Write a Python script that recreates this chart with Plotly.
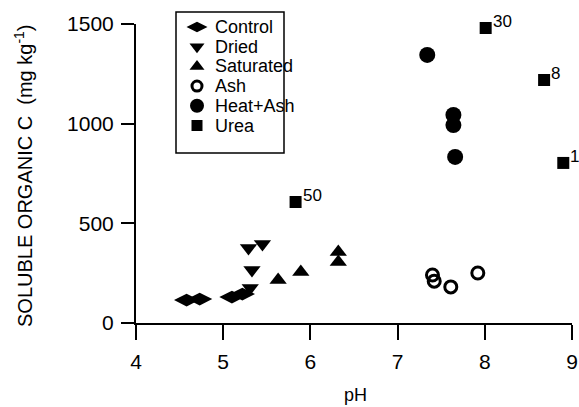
import plotly.graph_objects as go

# Data
control_ph = [4.58, 4.73, 5.10, 5.22]
control_c = [115, 120, 130, 145]

dried_ph = [5.29, 5.45, 5.33, 5.31]
dried_c = [376, 396, 266, 176]

saturated_ph = [5.63, 5.89, 6.32, 6.32]
saturated_c = [216, 256, 356, 306]

ash_ph = [7.40, 7.42, 7.61, 7.92]
ash_c = [241, 210, 181, 251]

heatash_ph = [7.34, 7.64, 7.64, 7.66]
heatash_c = [1345, 1044, 993, 833]

urea_ph = [5.83, 8.01, 8.68, 8.90]
urea_c = [607, 1480, 1219, 803]
urea_labels = ["50", "30", "8", "1"]

series_names = ["Control", "Dried", "Saturated", "Ash", "Heat+Ash", "Urea"]

x_ticks = [4, 5, 6, 7, 8, 9]
y_ticks = [0, 500, 1000, 1500]

FONT = "Liberation Sans, Arial, Helvetica, sans-serif"

# marker styles (symbol, size, outline width) for each series
styles = {
    "Control": ("diamond-wide", 18, 0),
    "Dried": ("triangle-down", 15, 0),
    "Saturated": ("triangle-up", 15, 0),
    "Ash": ("circle-open", 12, 3),
    "Heat+Ash": ("circle", 16, 0),
    "Urea": ("square", 12, 0),
}
legend_styles = {
    "Control": ("diamond-wide", 15, 0),
    "Dried": ("triangle-down", 13, 0),
    "Saturated": ("triangle-up", 13, 0),
    "Ash": ("circle-open", 10, 3),
    "Heat+Ash": ("circle", 14, 0),
    "Urea": ("square", 11, 0),
}

data = {
    "Control": (control_ph, control_c),
    "Dried": (dried_ph, dried_c),
    "Saturated": (saturated_ph, saturated_c),
    "Ash": (ash_ph, ash_c),
    "Heat+Ash": (heatash_ph, heatash_c),
    "Urea": (urea_ph, urea_c),
}

fig = go.Figure()

for name in series_names:
    xs, ys = data[name]
    sym, size, lw = styles[name]
    fig.add_trace(go.Scatter(
        x=xs, y=ys, mode="markers", name=name, showlegend=False,
        marker=dict(symbol=sym, size=size, color="black",
                    line=dict(color="black", width=lw)),
        cliponaxis=False,
    ))

for x, y, t in zip(urea_ph, urea_c, urea_labels):
    fig.add_annotation(x=x, y=y, text=t, showarrow=False,
                       xanchor="left", yanchor="bottom", xshift=5, yshift=-5,
                       font=dict(family=FONT, size=17, color="black"))

# ---- layout geometry (screen pixels) ----
W, H = 579, 407
PL, PR, PT, PB = 136, 572, 24, 323          # plot area in screen pixels
ML, MT = PL, PT
MR, MB = W - PR, H - PB
PW, PH = PR - PL, PB - PT

def px_x(p):
    return (p - PL) / PW

def px_y(p):
    return (PB - p) / PH

box_l, box_r, box_t, box_b = 176, 284, 12, 153
row_top, row_gap = 27, 19.7
mark_x, text_x = 197, 213

fig.add_shape(type="rect", xref="paper", yref="paper",
              x0=px_x(box_l), x1=px_x(box_r), y0=px_y(box_b), y1=px_y(box_t),
              line=dict(color="black", width=1.5), fillcolor="rgba(0,0,0,0)",
              layer="above")

for i, name in enumerate(series_names):
    yy = px_y(row_top + i * row_gap)
    sym, size, lw = legend_styles[name]
    fig.add_trace(go.Scatter(
        x=[px_x(mark_x)], y=[yy], xaxis="x2", yaxis="y2", mode="markers",
        showlegend=False, hoverinfo="skip", cliponaxis=False,
        marker=dict(symbol=sym, size=size, color="black",
                    line=dict(color="black", width=lw)),
    ))
    fig.add_annotation(xref="paper", yref="paper", x=px_x(text_x), y=yy,
                       text=name, showarrow=False, xanchor="left", yanchor="middle",
                       font=dict(family=FONT, size=18, color="black"))

# axis titles
fig.add_annotation(xref="paper", yref="paper", x=px_x(23), y=px_y(176),
                   text="SOLUBLE ORGANIC C  (mg kg<sup>-1</sup>)", textangle=-90,
                   showarrow=False, xanchor="center", yanchor="middle",
                   font=dict(family=FONT, size=20, color="black"))
fig.add_annotation(xref="paper", yref="paper", x=px_x(355), y=px_y(395),
                   text="pH", showarrow=False, xanchor="center", yanchor="middle",
                   font=dict(family=FONT, size=18, color="black"))

fig.update_layout(
    width=W, height=H,
    margin=dict(l=ML, r=MR, t=MT, b=MB, autoexpand=False),
    paper_bgcolor="white", plot_bgcolor="white",
    font=dict(family=FONT, color="black"),
    showlegend=False,
    hovermode=False,
    xaxis=dict(
        range=[4, 9], tickvals=x_ticks, ticktext=[str(v) for v in x_ticks],
        showgrid=False, zeroline=False, showline=True, linecolor="black", linewidth=2,
        ticks="outside", ticklen=15, tickwidth=2, tickcolor="black",
        tickfont=dict(family=FONT, size=21), ticklabelstandoff=4,
        automargin=False,
    ),
    yaxis=dict(
        range=[0, 1500], tickvals=y_ticks, ticktext=[str(v) for v in y_ticks],
        showgrid=False, zeroline=False, showline=True, linecolor="black", linewidth=2,
        ticks="outside", ticklen=13, tickwidth=2, tickcolor="black",
        tickfont=dict(family=FONT, size=21), ticklabelstandoff=3,
        automargin=False,
    ),
    xaxis2=dict(range=[0, 1], overlaying="x", visible=False, fixedrange=True),
    yaxis2=dict(range=[0, 1], overlaying="y", visible=False, fixedrange=True),
)

fig.write_html(
    "out.html",
    config={"displayModeBar": False, "staticPlot": True},
    post_script="document.body.style.margin='0';document.body.style.overflow='hidden';",
)
